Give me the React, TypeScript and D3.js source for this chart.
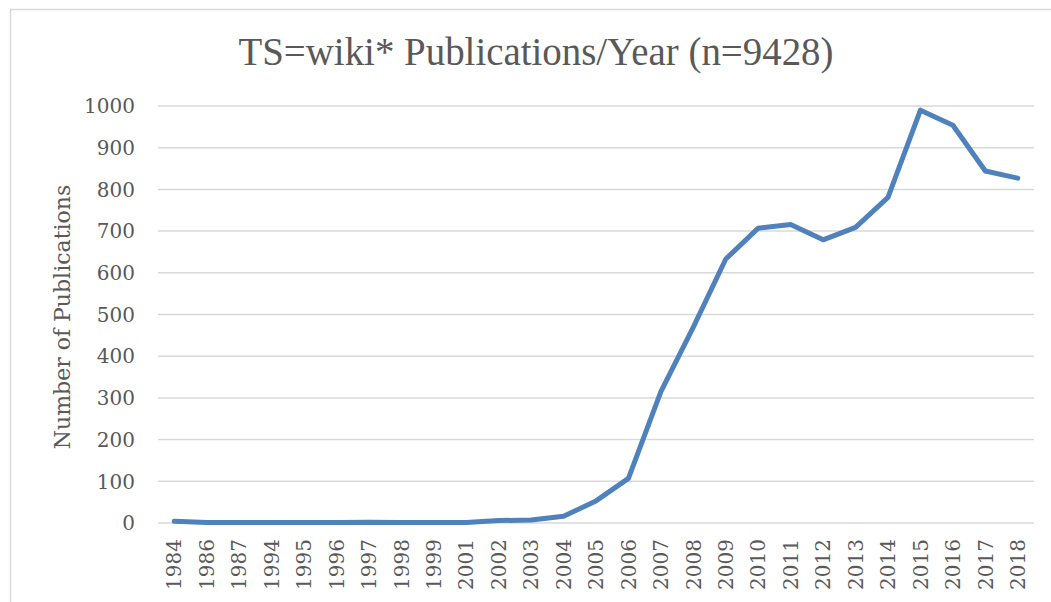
import { useEffect, useRef } from 'react';
import * as d3 from 'd3';

const years = [
  '1984', '1986', '1987', '1994', '1995', '1996', '1997', '1998', '1999', '2001',
  '2002', '2003', '2004', '2005', '2006', '2007', '2008', '2009', '2010', '2011',
  '2012', '2013', '2014', '2015', '2016', '2017', '2018',
];
const publications = [
  4, 1, 1, 1, 1, 1, 2, 1, 1, 1,
  6, 7, 16, 53, 107, 315, 470, 633, 707, 716,
  679, 709, 781, 990, 954, 844, 827,
];
const yTicks = [0, 100, 200, 300, 400, 500, 600, 700, 800, 900, 1000];

const W = 1051;
const H = 602;
const margin = { left: 158, right: 17, top: 106, bottom: 79 };

const App = () => {
  const svgRef = useRef<SVGSVGElement>(null);

  useEffect(() => {
    if (!svgRef.current) return;
    const svg = d3.select(svgRef.current);
    svg.selectAll('*').remove();

    const x = d3
      .scaleBand<string>()
      .domain(years)
      .range([margin.left, W - margin.right]);
    const y = d3
      .scaleLinear()
      .domain([0, 1000])
      .range([H - margin.bottom, margin.top]);

    // chart frame
    svg
      .append('path')
      .attr('d', `M10.5,${H} V9.5 H${W}`)
      .attr('fill', 'none')
      .attr('stroke', '#d9d9d9')
      .attr('stroke-width', 1.5);

    // title
    svg
      .append('text')
      .attr('x', 536)
      .attr('y', 65)
      .attr('text-anchor', 'middle')
      .attr('font-family', "'Liberation Serif', serif")
      .attr('font-size', 39)
      .attr('textLength', 595)
      .attr('lengthAdjust', 'spacingAndGlyphs')
      .attr('fill', '#595959')
      .text('TS=wiki* Publications/Year (n=9428)');

    // gridlines
    svg
      .append('g')
      .selectAll('line')
      .data(yTicks)
      .join('line')
      .attr('x1', margin.left)
      .attr('x2', W - margin.right)
      .attr('y1', (d) => y(d))
      .attr('y2', (d) => y(d))
      .attr('stroke', '#d9d9d9')
      .attr('stroke-width', 1.5);

    // y tick labels
    svg
      .append('g')
      .selectAll('text')
      .data(yTicks)
      .join('text')
      .attr('x', 135)
      .attr('y', (d) => y(d))
      .attr('dy', '0.36em')
      .attr('text-anchor', 'end')
      .attr('font-family', "'DejaVu Serif', serif")
      .attr('font-size', 20)
      .attr('fill', '#595959')
      .text((d) => d);

    // x tick labels
    svg
      .append('g')
      .selectAll('text')
      .data(years)
      .join('text')
      .attr(
        'transform',
        (d) => `translate(${(x(d) ?? 0) + x.bandwidth() / 2},539) rotate(-90)`
      )
      .attr('dy', '0.36em')
      .attr('text-anchor', 'end')
      .attr('font-family', "'DejaVu Serif', serif")
      .attr('font-size', 20)
      .attr('fill', '#595959')
      .text((d) => d);

    // y axis title
    svg
      .append('text')
      .attr('transform', `translate(62,317) rotate(-90)`)
      .attr('dy', '0.36em')
      .attr('text-anchor', 'middle')
      .attr('font-family', "'DejaVu Serif', serif")
      .attr('font-size', 22)
      .attr('fill', '#595959')
      .text('Number of Publications');

    // series line
    const line = d3
      .line<number>()
      .x((_, i) => (x(years[i]) ?? 0) + x.bandwidth() / 2)
      .y((d) => y(d));

    svg
      .append('path')
      .datum(publications)
      .attr('d', line)
      .attr('fill', 'none')
      .attr('stroke', '#4f81bd')
      .attr('stroke-width', 5)
      .attr('stroke-linejoin', 'round')
      .attr('stroke-linecap', 'round');
  }, []);

  return (
    <svg
      ref={svgRef}
      width={W}
      height={H}
      style={{ position: 'absolute', left: 0, top: 0, background: '#fff' }}
    />
  );
};

export default App;
